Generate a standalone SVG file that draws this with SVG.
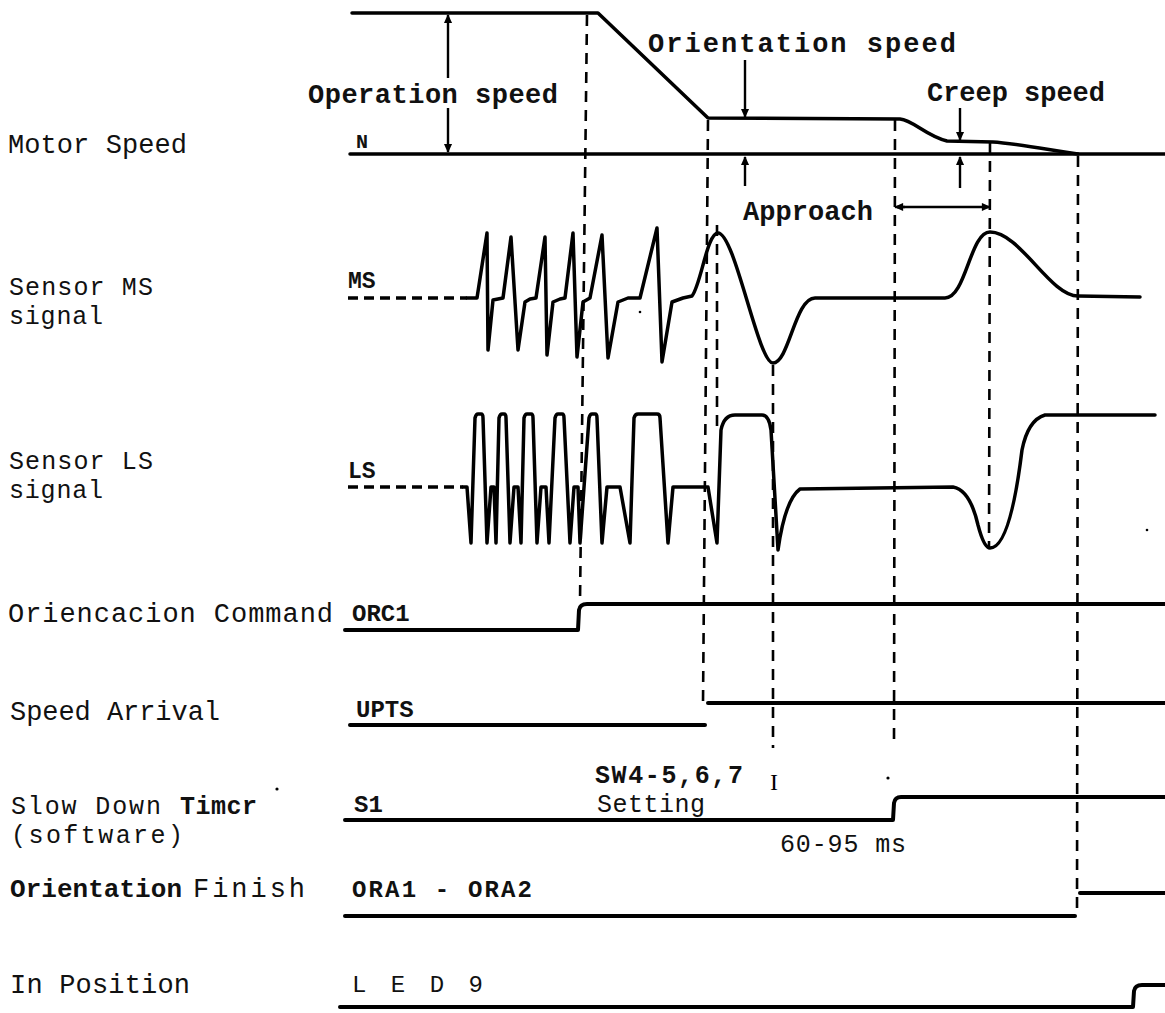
<svg xmlns="http://www.w3.org/2000/svg" width="1165" height="1013" viewBox="0 0 1165 1013">
<style>
.lbl{font-family:"Liberation Mono","DejaVu Sans Mono",monospace;font-size:27px;fill:#111}
.two{font-size:25px}
.b{font-weight:bold;font-size:27px}
.sig{fill:none;stroke:#000;stroke-width:3.5;stroke-linejoin:round;stroke-linecap:round}
.dash{fill:none;stroke:#000;stroke-width:2.6;stroke-dasharray:11 8}
.ddash{fill:none;stroke:#000;stroke-width:3.5;stroke-dasharray:10 6}
.arr{fill:none;stroke:#000;stroke-width:2.4}
</style>
<defs>
<marker id="ah" viewBox="0 0 10 10" refX="9" refY="5" markerWidth="11" markerHeight="9" markerUnits="userSpaceOnUse" orient="auto"><path d="M0,0.5 L10,5 L0,9.5 z" fill="#000"/></marker>
</defs>
<rect width="1165" height="1013" fill="#fff"/>

<g id="labels">
<text class="lbl" x="8" y="153" textLength="179">Motor Speed</text>
<text class="lbl two" x="9" y="295" textLength="144">Sensor MS</text>
<text class="lbl two" x="9" y="324" textLength="94">signal</text>
<text class="lbl two" x="9" y="469" textLength="144">Sensor LS</text>
<text class="lbl two" x="9" y="498" textLength="94">signal</text>
<text class="lbl" x="8" y="622" textLength="325">Oriencacion Command</text>
<text class="lbl" x="10" y="720" textLength="210">Speed Arrival</text>
<text class="lbl two" x="11" y="814" textLength="150">Slow Down</text>
<text class="lbl b" x="180" y="814" textLength="77" style="font-size:25px">Timcr</text>
<text class="lbl two" x="11" y="843" textLength="172">(software)</text>
<text class="lbl b" x="10" y="897" textLength="172" style="font-size:26px">Orientation</text>
<text class="lbl" x="193" y="897" textLength="112">Finish</text>
<text class="lbl" x="10" y="993" textLength="180">In Position</text>
<circle cx="277" cy="789" r="1.6" fill="#000"/>
</g>

<g id="motor-speed">
<path class="sig" d="M352,13 L598,13 L708,118 L900,119 C913,120 926,136 947,141 L993,142 C1012,143 1050,150 1078,154"/>
<path class="sig" d="M350,154 L1165,154"/>
<text class="lbl b" x="356" y="148" style="font-size:20px">N</text>
<text class="lbl b" x="308" y="103" textLength="250">Operation speed</text>
<text class="lbl b" x="648" y="52" textLength="308">Orientation speed</text>
<text class="lbl b" x="927" y="101" textLength="178">Creep speed</text>
<text class="lbl b" x="743" y="220" textLength="130">Approach</text>
<path class="arr" d="M448,78 L448,15" marker-end="url(#ah)"/>
<path class="arr" d="M448,108 L448,152" marker-end="url(#ah)"/>
<path class="arr" d="M745,60 L745,117" marker-end="url(#ah)"/>
<path class="arr" d="M745,186 L745,157" marker-end="url(#ah)"/>
<path class="arr" d="M960,108 L960,140" marker-end="url(#ah)"/>
<path class="arr" d="M960,188 L960,157" marker-end="url(#ah)"/>
<path class="arr" d="M905,207 L895,207" marker-end="url(#ah)"/>
<path class="arr" d="M897,207 L990,207" marker-end="url(#ah)"/>
</g>

<g id="sensor-ms">
<text class="lbl b" x="348" y="288" style="font-size:23px">MS</text>
<path class="ddash" d="M348,298 L467,298"/>
<path class="sig" d="M467,298 L477,298 L487,233 L488,350 L493,300 L503,298 L511,237 L518,350 L525,302 L530,299 L536,298 L545,237 L547,355 L553,302 L560,299 L565,298 L573,233 L577,357 L583,302 L590,298 L602,235 L608,358 L618,302 L628,298 L640,298 L657,228 L662,362 L672,302 L683,298 L692,296 C701,285 707,233 718,233 C735,233 758,363 773,363 C789,363 795,298 815,298 L945,298 C966,298 970,232 990,232 C1020,232 1050,296 1078,296 L1140,297"/>
<circle cx="640" cy="312" r="1.3" fill="#000"/>
</g>

<g id="sensor-ls">
<text class="lbl b" x="348" y="478" style="font-size:23px">LS</text>
<path class="ddash" d="M348,487 L463,487"/>
<path class="sig" d="M463,487 L467,487 L471,543 L475,418 Q476,414 478,414 L481,414 Q483,414 483,418 L487,543 L491,487 L494,487 L496,543 L499,418 Q500,414 502,414 L504,414 Q506,414 506,418 L510,543 L514,487 L518,487 L521,543 L524,418 Q525,414 527,414 L531,414 Q533,414 533,418 L537,543 L541,487 L546,487 L549,543 L555,418 Q556,414 558,414 L562,414 Q564,414 564,418 L570,543 L574,487 L578,487 L580,543 L589,418 Q590,414 592,414 L595,414 Q597,414 597,418 L602,543 L607,487 L620,487 L630,543 L634,418 Q635,414 638,414 L657,414 Q660,414 660,418 L668,543 L673,487 L708,487 L717,543 L721,430 Q724,415 735,415 L762,415 Q769,415 771,430 L778,550 Q785,500 800,489 L953,487 Q970,490 978,525 Q984,548 990,548 Q1010,548 1022,450 Q1028,420 1045,415 L1155,415"/>
<circle cx="1147" cy="530" r="1.3" fill="#000"/>
</g>

<g id="orc1">
<text class="lbl b" x="352" y="621" style="font-size:24px">ORC1</text>
<path class="sig" d="M345,630 L578,630 L579,610 Q580,604 587,604 L1165,604" style="stroke-width:4"/>
</g>

<g id="upts">
<text class="lbl b" x="356" y="717" style="font-size:24px">UPTS</text>
<path class="sig" d="M350,725 L705,725" style="stroke-width:4"/>
<path class="sig" d="M708,703 L1165,703" style="stroke-width:4"/>
</g>

<g id="s1">
<text class="lbl b" x="354" y="812" style="font-size:24px">S1</text>
<text class="lbl b" x="595" y="783" textLength="148" style="font-size:25px">SW4-5,6,7</text>
<text class="lbl" x="597" y="812" textLength="108" style="font-size:25px">Setting</text>
<text x="770" y="790" style="font-family:'Liberation Serif',serif;font-size:24px">I</text>
<text class="lbl" x="780" y="852" textLength="126" style="font-size:25px">60-95 ms</text>
<circle cx="888" cy="778" r="1.6" fill="#000"/>
<path class="sig" d="M345,820 L893,820 L894,803 Q895,797 901,797 L1165,797" style="stroke-width:4"/>
</g>

<g id="ora">
<text class="lbl b" x="352" y="897" textLength="180" style="font-size:24px">ORA1 - ORA2</text>
<path class="sig" d="M345,916 L1075,916" style="stroke-width:4"/>
<path class="sig" d="M1080,893 L1165,893" style="stroke-width:4"/>
</g>

<g id="led9">
<text class="lbl" x="352" y="992" textLength="131" style="font-size:24px">L E D 9</text>
<path class="sig" d="M340,1007 L1133,1007 L1134,991 Q1135,985 1142,985 L1165,985" style="stroke-width:4"/>
</g>

<g id="connectors">
<path class="dash" d="M587,15 L580,602"/>
<path class="dash" d="M708,120 L703,703"/>
<path class="dash" d="M717,225 L717,430"/>
<path class="dash" d="M773,365 L773,748"/>
<path class="dash" d="M895,120 L894,745"/>
<path class="dash" d="M990,142 L989,548"/>
<path class="dash" d="M1078,156 L1077,916"/>
</g>
</svg>
